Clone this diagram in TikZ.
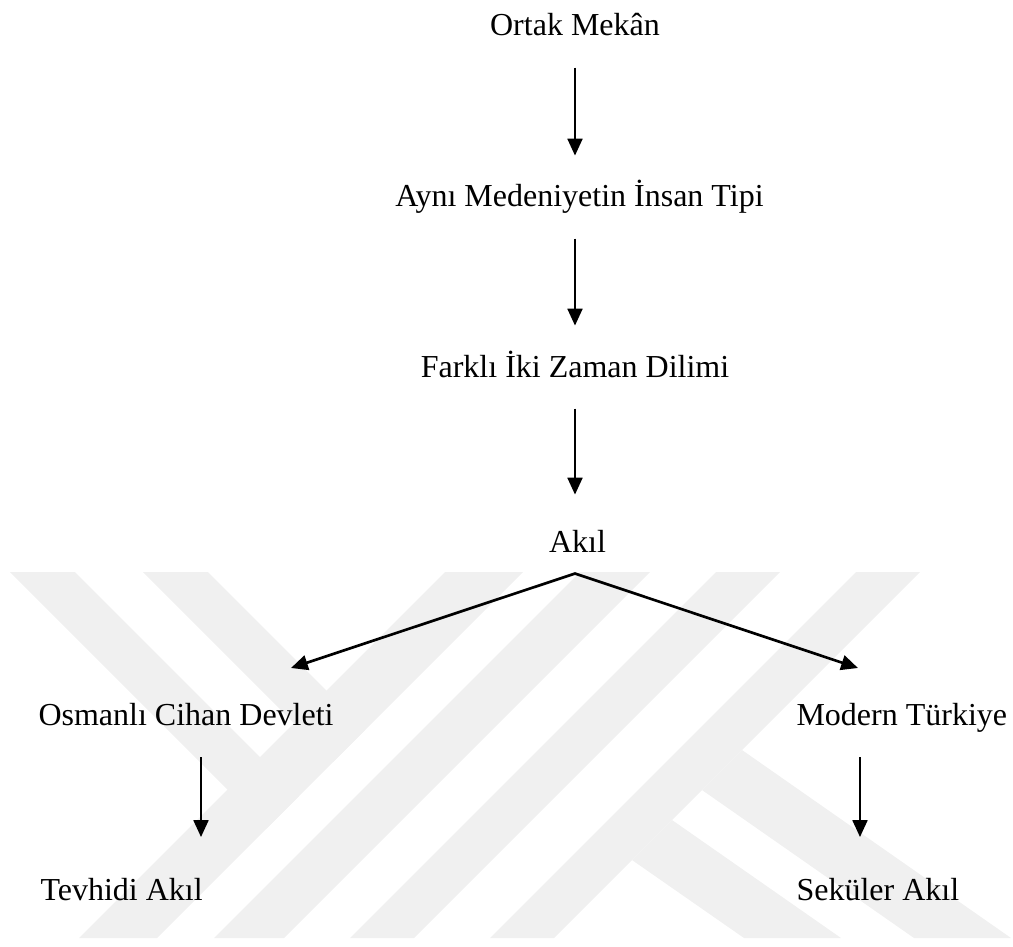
\documentclass[tikz,border=0pt]{standalone}
\usepackage{fontspec}
\setmainfont{Liberation Serif}
\usetikzlibrary{arrows.meta}
\definecolor{wmGray}{HTML}{F0F0F0}

\begin{document}
\begin{tikzpicture}[x=0.375pt,y=-0.375pt,>={Triangle[length=6.3pt,width=5.6pt]},
      lbl/.style={inner sep=0pt,text height=7.9pt,text depth=0pt,anchor=base,
                  font=\fontsize{12}{14.4}\selectfont},
      arr/.style={->,line width=0.75pt,line join=miter}]
    \useasboundingbox (0,0) rectangle (1013,947);
    % watermark bands
    \begin{scope}
      \clip (0,570) rectangle (1013,938);
      \fill[wmGray] (10,572) -- (75,572) -- (299,796) -- (266.5,828.5) -- cycle;
      \fill[wmGray] (143,572) -- (208,572) -- (365.5,729.5) -- (333,762) -- cycle;
      \fill[wmGray] (445,572) -- (523,572) -- (157,938) -- (79,938) -- cycle;
      \fill[wmGray] (580,572) -- (650,572) -- (284,938) -- (214,938) -- cycle;
      \fill[wmGray] (716,572) -- (780,572) -- (414,938) -- (350,938) -- cycle;
      \fill[wmGray] (856,572) -- (920,572) -- (554,938) -- (490,938) -- cycle;
      \fill[wmGray] (742,750) -- (1011,938) -- (914,938) -- (702,790) -- cycle;
      \fill[wmGray] (672,820) -- (841,938) -- (744,938) -- (632,860) -- cycle;
    \end{scope}
    \coordinate (spine) at (575,0);
    \node[lbl] (ortak)  at (575,35)    {Ortak Mekân};
    \node[lbl] (ayni)   at (579.5,206) {Aynı Medeniyetin İnsan Tipi};
    \node[lbl] (farkli) at (575,377)   {Farklı İki Zaman Dilimi};
    \node[lbl] (akil)   at (577.5,552) {Akıl};
    \node[lbl,anchor=base west] (osmanli) at (38,725)  {Osmanlı Cihan Devleti};
    \node[lbl,anchor=base west] (modern)  at (796,725) {Modern Türkiye};
    \node[lbl,anchor=base west] (tevhidi) at (40,900)  {Tevhidi Akıl};
    \node[lbl,anchor=base west] (sekuler) at (796,900) {Seküler Akıl};
    \draw[arr] (ortak.south -| spine) ++(0,32) -- ++(0,88);
    \draw[arr] (ayni.south -| spine) ++(0,32) -- ++(0,87);
    \draw[arr] (farkli.south -| spine) ++(0,31) -- ++(0,86);
    \path (akil.south -| spine) ++(0,21) coordinate (apex);
    \coordinate (ltip) at (291,668);
    \coordinate (rtip) at (858,668);
    \draw[arr,<->,line width=1pt] (ltip) -- (apex) -- (rtip);
    \draw[arr] (osmanli.base west) ++(163,32) -- ++(0,80);
    \draw[arr] (modern.base west) ++(64,32) -- ++(0,80);
  \end{tikzpicture}
\end{document}
